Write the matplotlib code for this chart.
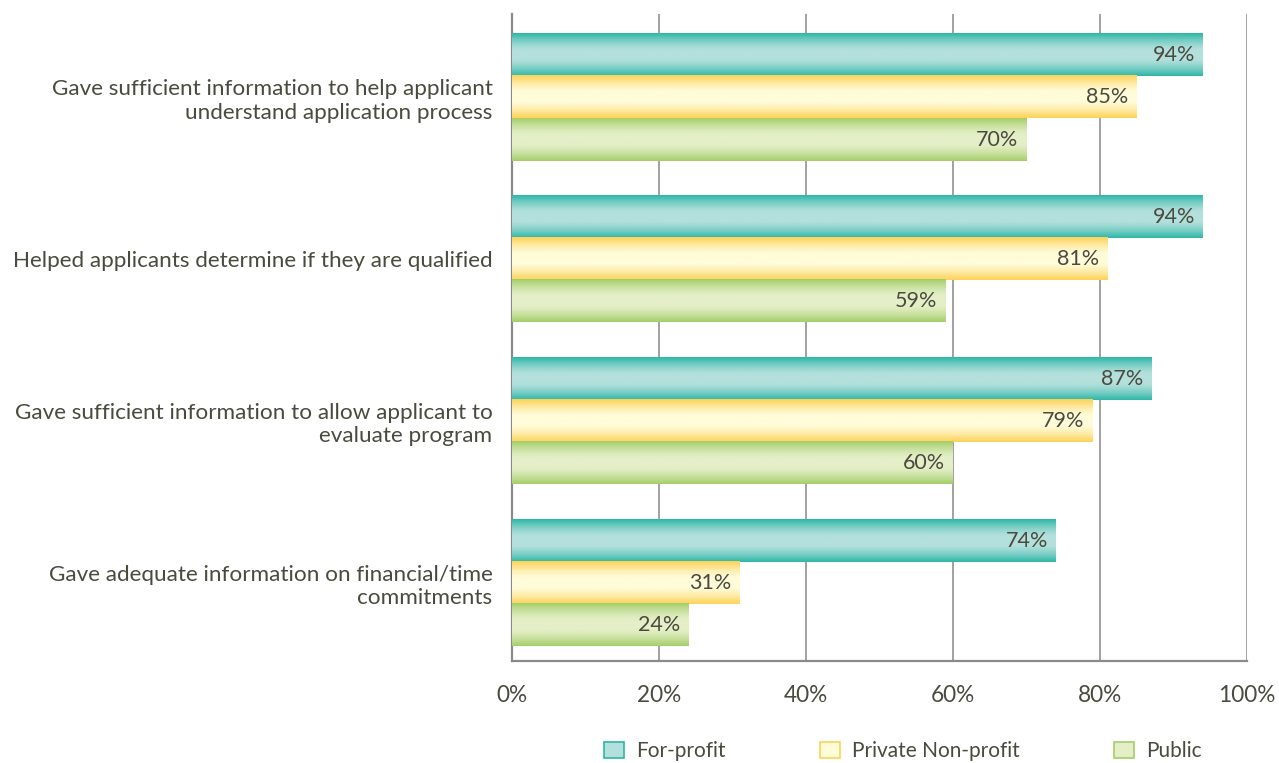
import numpy as np
import matplotlib
matplotlib.use("Agg")
import matplotlib.pyplot as plt
from matplotlib.patches import Patch
from matplotlib.colors import to_rgb

categories = [
    "Gave sufficient information to help applicant\nunderstand application process",
    "Helped applicants determine if they are qualified",
    "Gave sufficient information to allow applicant to\nevaluate program",
    "Gave adequate information on financial/time\ncommitments",
]
series_names = ["For-profit", "Private Non-profit", "Public"]
for_profit = [94, 94, 87, 74]
private_nonprofit = [85, 81, 79, 31]
public = [70, 59, 60, 24]
x_ticks = [0, 20, 40, 60, 80, 100]
x_tick_labels = ["0%", "20%", "40%", "60%", "80%", "100%"]

edge_colors = ["#2DB7A7", "#FDD257", "#A4CE69"]
center_colors = ["#B3E0DC", "#FFFCD9", "#E4EFC8"]

plt.rcParams["font.family"] = ["Lato", "DejaVu Sans"]
text_color = "#4A4A3E"

fig = plt.figure(figsize=(12.79, 7.63), dpi=100)
ax = fig.add_axes([512/1279, 1-661/763, (1247-512)/1279, (661-14)/763])

h = 0.26
y = np.arange(len(categories))
data = [for_profit, private_nonprofit, public]
offsets = [-h, 0, h]

def gradient(edge, center, n=80):
    e = np.array(to_rgb(edge)); c = np.array(to_rgb(center))
    t = np.linspace(-1, 1, n)
    w = np.clip((np.abs(t) - 0.2) / 0.8, 0, 1)[:, None] ** 1.4
    return (c * (1 - w) + e * w)[:, None, :]

for vals, off, ec, cc in zip(data, offsets, edge_colors, center_colors):
    bars = ax.barh(y + off, vals, height=h, color="none", edgecolor="none", zorder=3)
    g = gradient(ec, cc)
    for b, v in zip(bars, vals):
        x0, y0 = b.get_x(), b.get_y()
        ax.imshow(g, extent=(x0, x0 + b.get_width(), y0, y0 + b.get_height()),
                  aspect="auto", zorder=3, interpolation="bilinear")
        ax.text(x0 + b.get_width() - 1.1, y0 + b.get_height()/2, f"{v}%",
                ha="right", va="center", fontsize=15.5, color=text_color, zorder=4)

ax.set_xlim(0, 100)
ax.set_ylim(len(categories) - 0.5 - 0.016, -0.5 - 0.016)
ax.set_xticks(x_ticks)
ax.set_xticklabels(x_tick_labels, fontsize=16.3, color=text_color)
ax.set_yticks(y)
ax.set_yticklabels(categories, fontsize=16.2, color=text_color, linespacing=1.2)
ax.tick_params(axis="both", length=0)
ax.tick_params(axis="x", pad=17)
ax.tick_params(axis="y", pad=14)
ax.grid(axis="x", color="#9A9A9A", linewidth=1.3, zorder=1)
ax.set_axisbelow(True)
for s in ["top", "right"]:
    ax.spines[s].set_visible(False)
for s in ["left", "bottom"]:
    ax.spines[s].set_color("#8A8A8A")
    ax.spines[s].set_linewidth(1.6)

handles = [Patch(facecolor=cc, edgecolor=ec, linewidth=1.2) for ec, cc in zip(edge_colors, center_colors)]
fig.legend(handles, series_names, loc="center", bbox_to_anchor=(0.706, 1-751/763), ncol=3,
           frameon=False, fontsize=15, handlelength=0.96, handleheight=0.82,
           columnspacing=4.5, handletextpad=0.6, labelcolor=text_color)

fig.savefig("out.png", dpi=100)
